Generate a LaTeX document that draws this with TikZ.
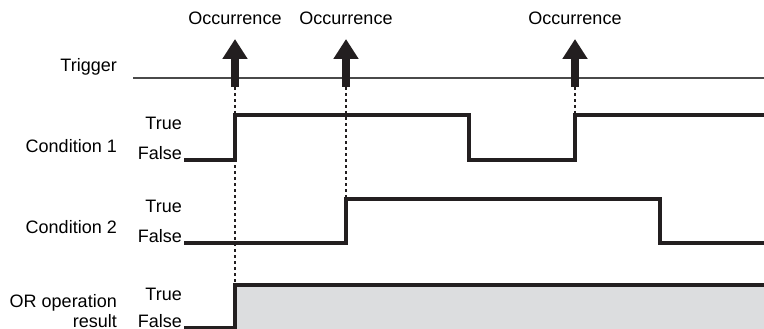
\documentclass[tikz,border=0pt]{standalone}
\usepackage{fontspec}
\setmainfont{Liberation Sans}
\usetikzlibrary{arrows.meta, positioning}
\definecolor{ink}{HTML}{231F20}
\definecolor{orgray}{HTML}{DCDDDF}
\definecolor{rule}{HTML}{4A4A4A}

\begin{document}
\begin{tikzpicture}[x=1pt,y=-1pt,
  lbl/.style={font=\fontsize{18}{21}\selectfont,inner sep=0pt,anchor=base east},
  occ/.style={font=\fontsize{18}{21}\selectfont,inner sep=0pt,anchor=base},
  sig/.style={draw=ink,line width=3.5pt},
  fire/.style={draw=ink,line width=8pt,-{Triangle[width=24pt,length=20pt]}},
  guide/.style={draw=ink,line width=1.8pt,dash pattern=on 3pt off 3pt}]
  \useasboundingbox (0,0) rectangle (764,329);

  % row labels
  \node[lbl] (trg) at (117,72) {Trigger};
  \node[lbl] (c1) at (117,153) {Condition 1};
  \node[lbl] (c2) at (117,233) {Condition 2};
  \node[lbl] (or) at (117,307) {OR operation};
  \node[lbl] (res) at (117,327) {result};
  \node[lbl] (c1t) at (182,130) {True};
  \node[lbl] (c1f) at (182,159) {False};
  \node[lbl] (c2t) at (182,212) {True};
  \node[lbl] (c2f) at (182,242) {False};
  \node[lbl] (ort) at (182,300) {True};
  \node[lbl] (orf) at (182,327) {False};

  % trigger line and occurrences
  \draw[rule,line width=1.3pt] (133,78) -- (764,78);
  \foreach \x/\n in {235/a1,346/a2,575/a3}{
    \coordinate (\n) at (\x,87);
    \node[occ] (\n o) at (\x,25) {Occurrence};
    \draw[fire] (\n) -- (\x,39);
  }

  % OR result
  \fill[orgray] (235,285) rectangle (764,329);

  % dotted guides
  \draw[guide] (a1) -- (235,285);
  \draw[guide] (a2) -- (346,199);
  \draw[guide] (a3) -- (575,115);

  % signals
  \draw[sig] (184,160) -- (235,160) -- (235,115) -- (469,115) -- (469,160)
    -- (575,160) -- (575,115) -- (764,115);
  \draw[sig] (184,243) -- (346,243) -- (346,199) -- (660,199) -- (660,243)
    -- (764,243);
  \draw[sig] (184,328) -- (235,328) -- (235,285) -- (764,285);
\end{tikzpicture}
\end{document}
